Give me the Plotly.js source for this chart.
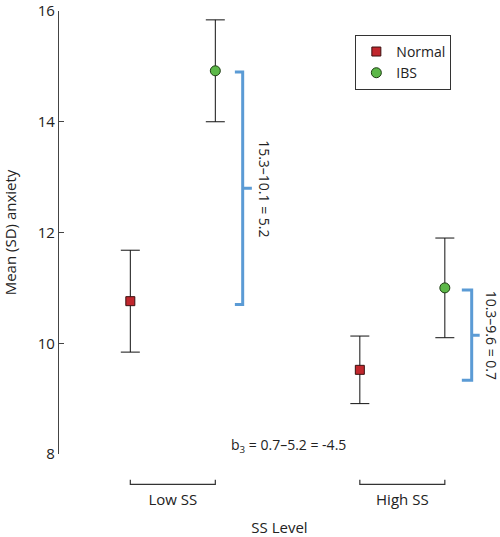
<!DOCTYPE html>
<html>
<head>
<meta charset="utf-8">
<script src="https://cdn.plot.ly/plotly-3.0.1.min.js"></script>
<style>html,body{margin:0;padding:0;background:#fff;}#chart{width:500px;height:537px;}</style>
</head>
<body>
<div id="chart"></div>
<script>
// ---- data ----
var groups = ["Low SS", "High SS"];
var groupPos = [0.5, 3.2];            // group centre on numeric x axis
var seriesNames = ["Normal", "IBS"];
var normalMean = [10.76, 9.52];
var normalSD   = [0.92, 0.61];
var ibsMean    = [14.92, 11.0];
var ibsSD      = [0.92, 0.90];
var bracketLow  = [10.7, 14.9];       // blue brace spans (y values)
var bracketHigh = [9.33, 10.96];
var bracketLowText  = "15.3–10.1 = 5.2";
var bracketHighText = "10.3–9.6 = 0.7";
var b3Text = "b<sub>3</sub> = 0.7–5.2 = -4.5";
var yTicks = [8, 10, 12, 14, 16];

// ---- styling ----
var FONT = "'Open Sans', sans-serif";
var TXT = "#222";
var FS = 14;
var FA = 15;
var off = 0.5;
var xN = groupPos.map(function(g){return g - off;});
var xI = groupPos.map(function(g){return g + off;});

var traces = [
  {
    type: "scatter", mode: "markers", name: seriesNames[0],
    x: xN, y: normalMean,
    error_y: {type: "data", array: normalSD, visible: true, color: "#111", thickness: 1, width: 9.5},
    marker: {symbol: "square", size: 9, color: "#c1272d", line: {color: "#3a1010", width: 1}}
  },
  {
    type: "scatter", mode: "markers", name: seriesNames[1],
    x: xI, y: ibsMean,
    error_y: {type: "data", array: ibsSD, visible: true, color: "#111", thickness: 1, width: 9.5},
    marker: {symbol: "circle", size: 10, color: "#5cb848", line: {color: "#1f3d14", width: 1}}
  }
];

function brace(xv, xEnd, xNotch, y0, y1) {
  var ym = (y0 + y1) / 2;
  return "M" + xEnd + "," + y1 + " L" + xv + "," + y1 + " L" + xv + "," + y0 + " L" + xEnd + "," + y0 +
         " M" + xv + "," + ym + " L" + xNotch + "," + ym;
}
var BLUE = "#5b9bd5";
var shapes = [
  {type: "path", xref: "x", yref: "y", path: brace(1.322, 1.23, 1.43, bracketLow[0], bracketLow[1]),
   line: {color: BLUE, width: 3}},
  {type: "path", xref: "x", yref: "y", path: brace(4.016, 3.90, 4.11, bracketHigh[0], bracketHigh[1]),
   line: {color: BLUE, width: 3}}
];
// category brackets under the x axis
groupPos.forEach(function(g){
  shapes.push({type: "path", xref: "x", yref: "paper",
    path: "M" + (g - off) + ",-0.058 L" + (g - off) + ",-0.0685 L" + (g + off) + ",-0.0685 L" + (g + off) + ",-0.058",
    line: {color: "#333", width: 1.2}});
});

var annotations = [
  {xref: "x", yref: "y", x: 1.585, y: (bracketLow[0] + bracketLow[1]) / 2, text: bracketLowText,
   textangle: 90, showarrow: false, font: {family: FONT, size: FS, color: TXT}},
  {xref: "x", yref: "y", x: 4.25, y: (bracketHigh[0] + bracketHigh[1]) / 2, text: bracketHighText,
   textangle: 90, showarrow: false, font: {family: FONT, size: FS, color: TXT}},
  {xref: "x", yref: "paper", x: 1.855, y: -0.008, text: b3Text, showarrow: false,
   font: {family: FONT, size: FS, color: TXT}}
];

var layout = {
  width: 500, height: 537,
  margin: {l: 59, r: 0, t: 11, b: 82.5},
  paper_bgcolor: "#fff", plot_bgcolor: "#fff",
  font: {family: FONT, size: FS, color: TXT},
  showlegend: true,
  legend: {x: 0.672, y: 0.946, xanchor: "left", yanchor: "top",
           bordercolor: "#333", borderwidth: 1, bgcolor: "#fff",
           font: {family: FONT, size: FS, color: TXT}, tracegroupgap: 0, itemwidth: 30},
  xaxis: {
    range: [-0.839, 4.349], showgrid: false, zeroline: false, showline: false,
    tickvals: groupPos, ticktext: groups, ticks: "", ticklabelstandoff: 35,
    tickfont: {family: FONT, size: FA, color: TXT},
    title: {text: "SS Level", font: {family: FONT, size: FA, color: TXT}, standoff: 19}
  },
  yaxis: {
    range: [8, 16], showgrid: false, zeroline: false, showline: true, linecolor: "#444", linewidth: 1.2,
    tickvals: yTicks, ticks: "inside", ticklen: 5, tickcolor: "#444", tickwidth: 1.2,
    ticklabeloverflow: "allow",
    tickfont: {family: FONT, size: FA, color: TXT},
    title: {text: "Mean (SD) anxiety", font: {family: FONT, size: FA, color: TXT}, standoff: 23}
  },
  shapes: shapes,
  annotations: annotations
};

Plotly.newPlot("chart", traces, layout, {displayModeBar: false, staticPlot: true});
</script>
</body>
</html>
